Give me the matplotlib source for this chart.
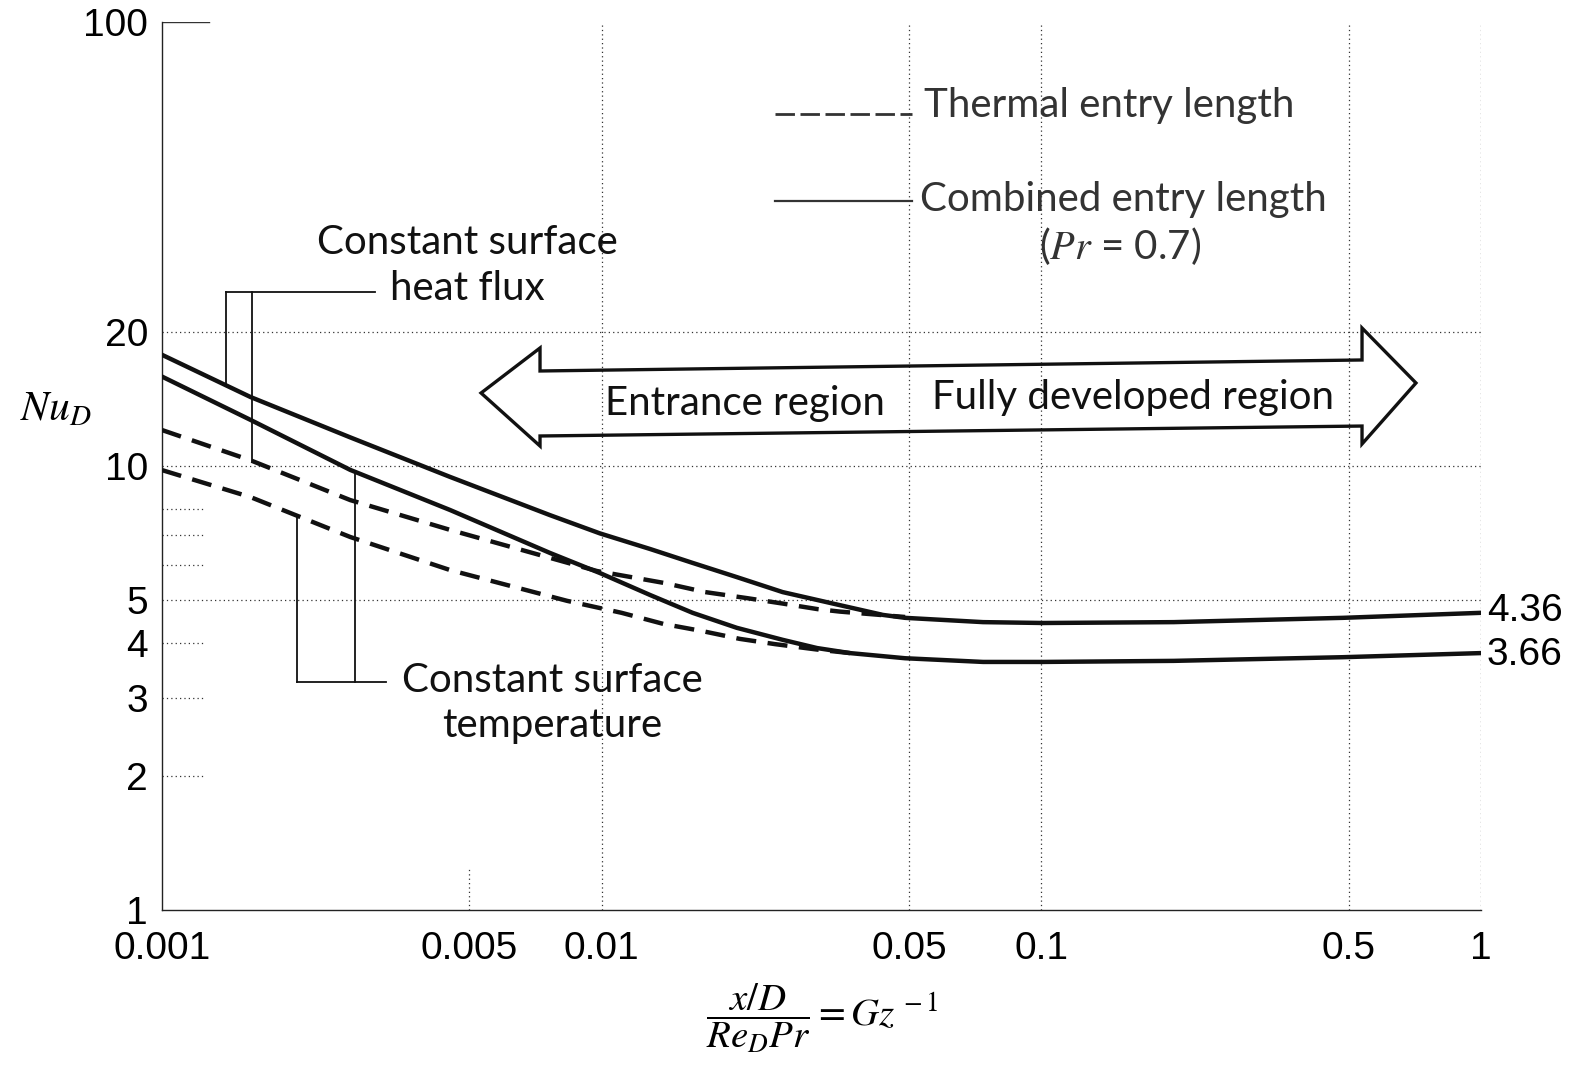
import numpy as np
import matplotlib
matplotlib.use("Agg")
import matplotlib.pyplot as plt
from matplotlib import font_manager
from matplotlib.lines import Line2D
from matplotlib.patches import Polygon

plt.rcParams["mathtext.fontset"] = "stix"

# --- data (Gz^-1, Nu_D) ---
gz_comb_flux = [0.001, 0.00159, 0.00268, 0.00452, 0.00763, 0.00991, 0.0129, 0.0161, 0.0203,
                0.0258, 0.0348, 0.0436, 0.049, 0.0737, 0.101, 0.2, 0.485, 1.0]
nu_comb_flux = [17.8, 14.3, 11.6, 9.45, 7.75, 7.05, 6.50, 6.05, 5.62,
                5.20, 4.86, 4.62, 4.55, 4.45, 4.43, 4.45, 4.55, 4.67]

gz_comb_temp = [0.001, 0.00159, 0.00268, 0.00452, 0.00763, 0.00991, 0.0129, 0.0161, 0.0203,
                0.0258, 0.0309, 0.0367, 0.049, 0.0737, 0.101, 0.2, 0.485, 1.0]
nu_comb_temp = [15.9, 12.7, 9.8, 7.96, 6.37, 5.74, 5.12, 4.67, 4.32,
                4.06, 3.89, 3.79, 3.69, 3.62, 3.62, 3.64, 3.71, 3.79]

gz_therm_flux = [0.001, 0.00159, 0.00268, 0.00452, 0.00976, 0.0139, 0.0172, 0.0214, 0.0258,
                 0.031, 0.0348, 0.049]
nu_therm_flux = [12.05, 10.3, 8.38, 7.18, 5.8, 5.45, 5.20, 5.04, 4.90,
                 4.76, 4.70, 4.57]

gz_therm_temp = [0.001, 0.00159, 0.00268, 0.00452, 0.00834, 0.0111, 0.0138, 0.0169, 0.0206,
                 0.0248, 0.0309, 0.0367]
nu_therm_temp = [9.79, 8.51, 6.92, 5.83, 4.97, 4.67, 4.41, 4.25, 4.08,
                 3.97, 3.86, 3.79]

x_ticks = [0.001, 0.005, 0.01, 0.05, 0.1, 0.5, 1]
x_ticklabels = ["0.001", "0.005", "0.01", "0.05", "0.1", "0.5", "1"]
y_ticks = [1, 2, 3, 4, 5, 10, 20, 100]
y_ticklabels = ["1", "2", "3", "4", "5", "10", "20", "100"]
end_labels = ["4.36", "3.66"]


def has_font(name):
    try:
        font_manager.findfont(name, fallback_to_default=False)
        return True
    except Exception:
        return False


tick_font, tick_size = "Liberation Sans", 28
ann_font = "Lato" if has_font("Lato") else "DejaVu Sans"


def on_curve(gz, nu, x):
    # log-log interpolation, so leader lines end right on a curve
    return 10 ** np.interp(np.log10(x), np.log10(gz), np.log10(nu))


W, H = 1582, 1075
fig = plt.figure(figsize=(W / 100, H / 100), dpi=100)
ax = fig.add_axes([162 / W, 1 - 910 / H, 1319 / W, 888 / H])
ax.set_xscale("log")
ax.set_yscale("log")
ax.set_xlim(0.001, 1)
ax.set_ylim(1, 100)

# faint dotted grid as in the scan
grid_kw = dict(color="#333333", lw=0.9, ls=(0, (1, 2.5)), zorder=0)
for yv in [5, 10, 20]:
    ax.axhline(yv, **grid_kw)
for xv in [0.01, 0.05, 0.1, 0.5, 1]:
    ax.axvline(xv, **grid_kw)
ax.plot([0.005, 0.005], [1, 1.25], **grid_kw)
for yv in [2, 3, 4, 6, 7, 8]:
    ax.plot([0.001, 0.00125], [yv, yv], **grid_kw)
ax.plot([0.001, 0.00128], [100, 100], color="#333333", lw=1.0)

for side in ["top", "right"]:
    ax.spines[side].set_visible(False)
for side in ["left", "bottom"]:
    ax.spines[side].set_linestyle((0, (2, 1)))
    ax.spines[side].set_linewidth(1.0)
    ax.spines[side].set_color("#222222")

ax.set_xticks(x_ticks)
ax.set_xticklabels(x_ticklabels)
ax.set_yticks(y_ticks)
ax.set_yticklabels(y_ticklabels)
ax.minorticks_off()
ax.tick_params(length=0, labelsize=tick_size)
ax.tick_params(axis="y", pad=10)
ax.tick_params(axis="x", pad=15)
for lab in ax.get_xticklabels() + ax.get_yticklabels():
    lab.set_fontfamily(tick_font)

# curves
ax.plot(gz_comb_flux, nu_comb_flux, color="#111111", lw=3.2, solid_capstyle="round",
        solid_joinstyle="round", zorder=3)
ax.plot(gz_comb_temp, nu_comb_temp, color="#111111", lw=3.2, solid_capstyle="round",
        solid_joinstyle="round", zorder=3)
ax.plot(gz_therm_flux, nu_therm_flux, color="#111111", lw=3.2, dashes=(4.5, 2.6), zorder=3)
ax.plot(gz_therm_temp, nu_therm_temp, color="#111111", lw=3.2, dashes=(4.5, 2.6), zorder=3)

# bracket leaders - heat flux
lk = dict(color="#111111", lw=1.3, zorder=2)
xa, xb, xc = 0.00140, 0.00160, 0.00305
ytop = 24.6
ax.plot([xa, xa], [ytop, on_curve(gz_comb_flux, nu_comb_flux, xa)], **lk)
ax.plot([xb, xb], [ytop, on_curve(gz_therm_flux, nu_therm_flux, xb)], **lk)
ax.plot([xa, xc], [ytop, ytop], **lk)

# bracket leaders - surface temperature
xd, xe, xf = 0.00203, 0.00275, 0.00323
ybot = 3.26
ax.plot([xd, xd], [on_curve(gz_therm_temp, nu_therm_temp, xd), ybot], **lk)
ax.plot([xe, xe], [on_curve(gz_comb_temp, nu_comb_temp, xe), ybot], **lk)
ax.plot([xd, xf], [ybot, ybot], **lk)

# double headed block arrow (axes fraction)
arrow_pts = [(0.2419, 0.5822), (0.2866, 0.6329), (0.2866, 0.607), (0.9098, 0.6194),
             (0.9098, 0.6554), (0.9507, 0.5935), (0.9098, 0.5248), (0.9098, 0.545),
             (0.2866, 0.5338), (0.2866, 0.5225)]
ax.add_patch(Polygon(arrow_pts, closed=True, transform=ax.transAxes, fill=False,
                     edgecolor="#111111", lw=2.4, joinstyle="miter", zorder=4))


def ftext(px, py, s, **kw):
    fig.text(px / W, 1 - py / H, s, **kw)


ann = dict(fontfamily=ann_font, fontsize=29, color="#111111", ha="center", va="center")
ftext(467, 243, "Constant surface", **ann)
ftext(467, 288, "heat flux", **ann)
ftext(552, 680, "Constant surface", **ann)
ftext(552, 725, "temperature", **ann)
ftext(745, 404, "Entrance region", **ann)
ftext(1133, 397, "Fully developed region", **ann)

# legend
leg = dict(fontfamily=ann_font, fontsize=29, color="#333333", ha="left", va="center")
fig.add_artist(Line2D([775 / W, 912 / W], [1 - 114 / H, 1 - 114 / H], color="#333333", lw=2.0,
                      dashes=(7, 2)))
ftext(924, 106, "Thermal entry length", **leg)
fig.add_artist(Line2D([775 / W, 912 / W], [1 - 201 / H, 1 - 201 / H], color="#333333", lw=1.6))
ftext(920, 200, "Combined entry length", **leg)
ftext(1120, 246, "($Pr$ = 0.7)", fontfamily=ann_font, fontsize=29, color="#333333",
      ha="center", va="center")

# fully developed values
ftext(1487, 611, end_labels[0], fontfamily=tick_font, fontsize=tick_size, ha="left", va="center")
ftext(1487, 655, end_labels[1], fontfamily=tick_font, fontsize=tick_size, ha="left", va="center")

# axis titles
ftext(56, 408, r"$Nu_D$", fontsize=30, ha="center", va="center")
ftext(822, 1018, r"$\dfrac{x/D}{Re_D Pr} = Gz^{\,-1}$", fontsize=28, ha="center", va="center")

fig.savefig("out.png", dpi=100, facecolor="white")
